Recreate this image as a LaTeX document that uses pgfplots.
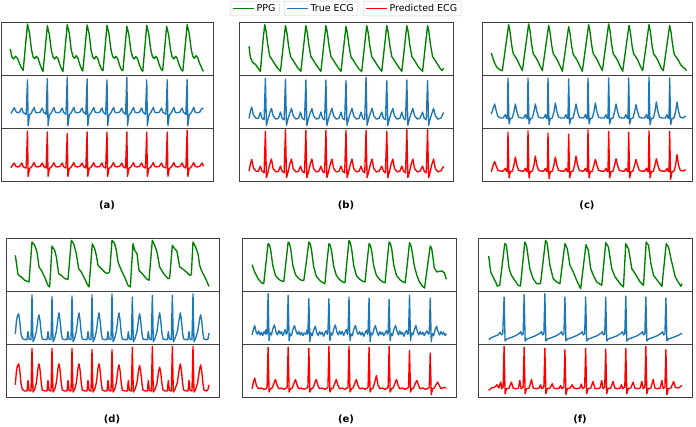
\documentclass[border=0pt]{standalone}
\usepackage{pgfplots}
\pgfplotsset{compat=1.18}
\usepackage{fontspec}
\setmainfont{DejaVu Sans}
\definecolor{ppgc}{HTML}{008000}
\definecolor{tecgc}{HTML}{1F77B4}
\definecolor{pecgc}{HTML}{FF0000}
\tikzset{
  sppg/.style={color=ppgc, line width=1.35pt, mark=none, line join=round},
  stru/.style={color=tecgc, line width=1.35pt, mark=none, line join=round},
  spre/.style={color=pecgc, line width=1.35pt, mark=none, line join=round},
}
\pgfplotsset{
  sub/.style={scale only axis, anchor=north west, height=53pt,
    xtick=\empty, ytick=\empty, y dir=reverse,
    axis line style={black!75, line width=0.7pt}},
  leg/.style={scale only axis, at={(0pt,0pt)}, anchor=south west, width=696pt, height=426pt,
    hide axis, xmin=0, xmax=1, ymin=0, ymax=1,
    legend image code/.code={\draw[##1] (0pt,0pt) -- (21pt,0pt);},
    legend style={anchor=north west, draw=black!20, rounded corners=2pt, fill=white,
      font=\fontsize{9.5}{11}\selectfont, inner xsep=2pt, inner ysep=1pt}},
}
\begin{document}
\begin{tikzpicture}[x=1pt,y=1pt]
\useasboundingbox (0,0) rectangle (696,426);

% ---------------- (a)
\begin{axis}[sub, at={(1pt,404pt)}, width=212pt, xmin=0, xmax=640, ymin=67, ymax=226]
\addplot[sppg] coordinates {(28,148)(33,172)(38,178)(44,170)(50,176)(56,192)(62,205)(67,212)
(80,73)(86,100)(92,150)(97,172)(102,177)(107,170)(112,176)(118,195)(124,210)(127,215)
(140,78)(146,105)(152,152)(157,172)(162,178)(167,171)(172,177)(178,196)(184,210)(187,216)
(200,75)(206,100)(212,150)(217,170)(222,176)(227,168)(232,175)(238,195)(244,210)(247,214)
(260,76)(266,102)(272,152)(277,172)(282,178)(287,170)(292,176)(298,196)(304,210)(308,213)
(320,77)(326,103)(332,150)(337,170)(342,176)(347,170)(352,177)(358,197)(364,211)(368,213)
(380,80)(386,105)(392,152)(397,172)(402,178)(407,171)(412,177)(418,196)(424,210)(428,215)
(440,77)(446,102)(452,150)(457,170)(462,177)(467,170)(472,176)(478,196)(484,210)(488,213)
(500,80)(506,105)(512,152)(517,172)(522,178)(527,170)(532,176)(538,196)(544,210)(549,214)
(562,75)(568,100)(574,148)(579,170)(584,176)(589,168)(594,174)(600,192)(606,205)(611,215)};
\end{axis}
\begin{axis}[sub, at={(1pt,351pt)}, width=212pt, xmin=0, xmax=640, ymin=226, ymax=383]
\addplot[stru] coordinates {(30,340)(36,330)(40,323)(45,334)(50,338)(56,336)(60,328)(63,324)(67,337)(72,340)(76,343)(80,240)
(82,376)(86,345)(92,338)(97,328)(100,322)(104,336)(110,338)(118,336)(122,328)(125,324)(129,337)(134,340)(136,343)(140,237)
(142,376)(146,345)(152,338)(157,328)(160,322)(164,336)(170,338)(178,336)(182,328)(185,324)(189,337)(194,340)(196,343)(200,232)
(202,376)(206,345)(212,338)(217,328)(220,322)(224,336)(230,338)(238,336)(242,328)(245,324)(249,337)(254,340)(256,343)(260,238)
(262,376)(266,345)(272,338)(277,328)(280,322)(284,336)(290,338)(298,336)(302,328)(305,324)(309,337)(314,340)(316,343)(320,240)
(322,376)(326,345)(332,338)(337,328)(340,322)(344,336)(350,338)(358,336)(362,328)(365,324)(369,337)(374,340)(376,343)(380,233)
(382,376)(386,345)(392,338)(397,328)(400,322)(404,336)(410,338)(418,336)(422,328)(425,324)(429,337)(434,340)(436,343)(440,240)
(442,376)(446,345)(452,338)(457,328)(460,322)(464,336)(470,338)(478,336)(482,328)(485,324)(489,337)(496,340)(498,343)(502,240)
(504,376)(508,345)(514,338)(519,328)(522,322)(526,336)(532,338)(540,336)(544,328)(547,324)(551,337)(556,340)(558,343)(562,240)
(564,376)(568,345)(574,338)(579,328)(582,322)(586,336)(592,338)(600,336)(604,328)(608,324)(611,326)};
\end{axis}
\begin{axis}[sub, at={(1pt,298pt)}, width=212pt, xmin=0, xmax=640, ymin=383, ymax=542]
\addplot[spre] coordinates {(30,502)(36,493)(40,488)(45,498)(50,500)(56,498)(60,492)(63,488)(67,499)(72,502)(76,503)(80,392)
(82,528)(86,505)(92,500)(97,492)(100,487)(104,498)(110,500)(118,498)(122,492)(125,488)(129,499)(134,502)(136,503)(140,395)
(142,528)(146,505)(152,500)(157,492)(160,487)(164,498)(170,500)(178,498)(182,492)(185,488)(189,499)(194,502)(196,503)(200,400)
(202,528)(206,505)(212,500)(217,492)(220,487)(224,498)(230,500)(238,498)(242,492)(245,488)(249,499)(254,502)(256,503)(260,395)
(262,528)(266,505)(272,500)(277,492)(280,487)(284,498)(290,500)(298,498)(302,492)(305,488)(309,499)(314,502)(316,503)(320,395)
(322,528)(326,505)(332,500)(337,492)(340,487)(344,498)(350,500)(358,498)(362,492)(365,488)(369,499)(374,502)(376,503)(380,395)
(382,528)(386,505)(392,500)(397,492)(400,487)(404,498)(410,500)(418,498)(422,492)(425,488)(429,499)(434,502)(436,503)(440,395)
(442,528)(446,505)(452,500)(457,492)(460,487)(464,498)(470,500)(478,498)(482,492)(485,488)(489,499)(496,502)(498,503)(502,395)
(504,528)(508,505)(514,500)(519,492)(522,487)(526,498)(532,500)(540,498)(544,492)(547,488)(551,499)(556,502)(558,503)(562,390)
(564,528)(568,505)(574,500)(579,492)(582,487)(586,498)(592,500)(600,498)(604,492)(608,488)(611,498)};
\end{axis}

% ---------------- (b)
\begin{axis}[sub, at={(239pt,404pt)}, width=214pt, xmin=28, xmax=668, ymin=22, ymax=181]
\addplot[sppg] coordinates {(58,95)(62,128)(68,142)(78,150)(86,162)(92,170)
(100,75)(105,30)(109,50)(114,90)(120,125)(127,135)(135,148)(143,160)(152,170)
(162,78)(167,33)(171,52)(176,92)(182,126)(189,136)(197,149)(205,161)(213,170)
(223,78)(228,33)(232,52)(237,92)(243,126)(250,136)(258,149)(266,161)(273,170)
(283,78)(288,33)(292,52)(297,92)(303,126)(310,136)(318,149)(326,161)(333,170)
(343,80)(348,35)(352,55)(357,94)(363,127)(370,137)(378,150)(386,162)(395,171)
(405,78)(410,33)(414,52)(419,92)(425,126)(432,136)(440,149)(448,161)(455,170)
(465,78)(470,33)(474,52)(479,92)(485,126)(492,136)(500,149)(508,161)(515,170)
(525,78)(530,33)(534,52)(539,92)(545,126)(552,136)(560,149)(568,161)(577,170)
(587,78)(592,33)(596,52)(601,92)(607,126)(614,136)(622,149)(630,162)(635,168)(640,160)};
\end{axis}
\begin{axis}[sub, at={(239pt,351pt)}, width=214pt, xmin=28, xmax=668, ymin=105, ymax=265]
\addplot[stru] coordinates {(58,236)(62,215)(66,202)(71,225)(79,236)(86,236)(92,218)(97,236)(103,240)(107,115)
(110,257)(114,240)(120,220)(125,206)(130,228)(138,238)(146,236)(152,217)(157,236)(163,240)(167,118)
(170,257)(174,240)(180,220)(185,206)(190,228)(198,238)(206,236)(212,217)(217,236)(224,240)(228,120)
(231,257)(235,240)(241,220)(246,206)(251,228)(259,238)(267,236)(273,217)(278,236)(284,240)(288,120)
(291,257)(295,240)(301,220)(306,206)(311,228)(319,238)(327,236)(333,217)(338,236)(344,240)(348,122)
(351,257)(355,240)(361,220)(366,206)(371,228)(379,238)(387,236)(393,217)(398,236)(404,240)(408,112)
(411,257)(415,240)(421,220)(426,206)(431,228)(439,238)(447,236)(455,217)(460,236)(466,240)(470,122)
(473,257)(477,240)(483,220)(488,206)(493,228)(501,238)(509,236)(515,217)(520,236)(526,240)(530,120)
(533,257)(537,240)(543,220)(548,206)(553,228)(561,238)(569,236)(577,217)(582,236)(588,240)(592,122)
(595,257)(599,240)(605,220)(610,206)(615,228)(623,238)(632,235)(640,218)};
\end{axis}
\begin{axis}[sub, at={(239pt,298pt)}, width=214pt, xmin=28, xmax=668, ymin=265, ymax=422]
\addplot[spre] coordinates {(58,393)(62,372)(66,358)(71,383)(79,393)(86,393)(92,378)(97,393)(103,398)(107,275)
(110,412)(114,398)(120,372)(125,357)(130,385)(138,395)(146,393)(152,378)(157,393)(163,398)(167,270)
(170,412)(174,398)(180,372)(185,357)(190,385)(198,395)(206,393)(212,378)(217,393)(224,398)(228,272)
(231,412)(235,398)(241,372)(246,357)(251,385)(259,395)(267,393)(273,378)(278,393)(284,398)(288,272)
(291,412)(295,398)(301,372)(306,357)(311,385)(319,395)(327,393)(333,378)(338,393)(344,398)(348,272)
(351,412)(355,398)(361,372)(366,357)(371,385)(379,395)(387,393)(393,378)(398,393)(404,398)(408,272)
(411,412)(415,398)(421,372)(426,357)(431,385)(439,395)(447,393)(455,378)(460,393)(466,398)(470,275)
(473,412)(477,398)(483,372)(488,357)(493,385)(501,395)(509,393)(515,378)(520,393)(526,398)(530,270)
(533,412)(537,398)(543,372)(548,357)(553,385)(561,395)(569,393)(577,378)(582,393)(588,398)(592,270)
(595,412)(599,398)(605,372)(610,357)(615,385)(623,395)(632,392)(640,378)};
\end{axis}

% ---------------- (c)
\begin{axis}[sub, at={(482pt,404pt)}, width=210pt, xmin=67, xmax=697, ymin=22, ymax=181]
\addplot[sppg] coordinates {(95,115)(100,132)(106,148)(112,158)(120,165)(128,168)
(147,30)(151,50)(156,92)(161,118)(167,126)(174,138)(180,152)(185,162)(188,168)
(207,28)(211,48)(216,90)(221,118)(227,126)(234,138)(240,152)(245,162)(248,168)
(267,32)(271,52)(276,92)(281,118)(287,126)(294,138)(300,152)(305,162)(308,170)
(327,36)(331,55)(336,95)(341,120)(347,128)(354,140)(360,153)(365,163)(368,170)
(387,30)(391,50)(396,92)(401,118)(407,126)(414,138)(420,152)(425,162)(428,168)
(447,28)(451,48)(456,90)(461,118)(467,126)(474,138)(480,152)(485,162)(489,170)
(508,32)(512,52)(517,92)(522,118)(528,126)(535,138)(541,152)(546,162)(549,168)
(568,30)(572,50)(577,92)(582,118)(588,126)(595,138)(601,152)(606,162)(611,168)
(630,32)(634,52)(639,92)(644,120)(650,128)(657,138)(663,150)(670,158)(676,162)(680,168)};
\end{axis}
\begin{axis}[sub, at={(482pt,351pt)}, width=210pt, xmin=67, xmax=697, ymin=181, ymax=340]
\addplot[stru] coordinates {(95,298)(100,282)(105,268)(110,290)(115,306)(123,310)(130,310)
(137,300)(140,310)(143,312)(145,190)(148,328)(152,312)(158,310)(163,290)(167,268)(172,292)(177,308)(185,310)(192,310)
(197,300)(200,310)(203,312)(205,190)(208,328)(212,312)(218,310)(223,290)(227,268)(232,292)(237,308)(245,310)(252,310)
(257,300)(260,310)(263,312)(265,190)(268,330)(272,312)(278,310)(283,290)(287,265)(292,292)(297,308)(305,310)(314,310)
(319,300)(322,310)(325,312)(327,193)(330,328)(334,312)(340,310)(345,290)(349,268)(354,292)(359,308)(367,310)(372,310)
(377,300)(380,310)(383,312)(385,190)(388,328)(392,312)(398,310)(403,290)(407,265)(412,292)(417,308)(425,310)(434,310)
(439,300)(442,310)(445,312)(447,190)(450,328)(454,312)(460,310)(465,290)(469,268)(474,292)(479,308)(487,310)(494,310)
(499,300)(502,310)(505,312)(507,190)(510,328)(514,312)(520,310)(525,290)(529,270)(534,292)(539,308)(547,310)(555,310)
(560,300)(563,310)(566,312)(568,187)(571,330)(575,312)(581,310)(586,290)(590,262)(595,292)(600,308)(608,310)(617,310)
(622,300)(625,310)(628,312)(630,190)(633,330)(637,312)(643,310)(648,290)(652,262)(657,292)(662,308)(670,310)(678,304)};
\end{axis}
\begin{axis}[sub, at={(482pt,298pt)}, width=210pt, xmin=67, xmax=697, ymin=340, ymax=495]
\addplot[spre] coordinates {(95,468)(100,450)(105,438)(110,452)(115,464)(123,466)(130,466)
(137,458)(140,466)(143,468)(145,352)(148,486)(152,468)(158,466)(163,448)(167,425)(172,450)(177,464)(185,466)(192,466)
(197,458)(200,466)(203,468)(205,348)(208,486)(212,468)(218,466)(223,448)(227,422)(232,450)(237,464)(245,466)(252,466)
(257,458)(260,466)(263,468)(265,355)(268,488)(272,468)(278,466)(283,448)(287,425)(292,450)(297,464)(305,466)(314,466)
(319,458)(322,466)(325,468)(327,358)(330,486)(334,468)(340,466)(345,448)(349,422)(354,450)(359,464)(367,466)(372,466)
(377,458)(380,466)(383,468)(385,345)(388,486)(392,468)(398,466)(403,448)(407,432)(412,450)(417,464)(425,466)(434,466)
(439,458)(442,466)(445,468)(447,350)(450,486)(454,468)(460,466)(465,448)(469,430)(474,450)(479,464)(487,466)(494,466)
(499,458)(502,466)(505,468)(507,352)(510,486)(514,468)(520,466)(525,448)(529,432)(534,450)(539,464)(547,466)(555,466)
(560,458)(563,466)(566,468)(568,348)(571,486)(575,468)(581,466)(586,448)(590,430)(595,450)(600,464)(608,466)(617,466)
(622,458)(625,466)(628,468)(630,350)(633,490)(637,468)(643,466)(648,448)(652,418)(657,450)(662,464)(670,466)(678,462)};
\end{axis}

% ---------------- (d)
\begin{axis}[sub, at={(6pt,188pt)}, width=213pt, xmin=19, xmax=658, ymin=38, ymax=197]
\addplot[sppg] coordinates {(47,90)(52,125)(55,148)(65,155)(75,165)(88,170)(97,50)(105,60)(112,80)(118,125)(125,135)(135,155)(145,180)(150,185)
(157,62)(165,75)(170,95)(177,145)(185,150)(195,160)(205,162)(215,45)(222,55)(230,85)(237,130)(245,140)(255,160)(262,175)(268,185)
(278,55)(285,70)(290,90)(295,120)(305,130)(315,140)(322,145)(330,140)(337,45)(345,55)(350,75)(355,110)(365,135)(375,155)(385,180)(392,185)
(400,55)(405,75)(412,85)(418,135)(428,145)(440,160)(448,165)(458,45)(465,60)(472,80)(480,125)(492,145)(505,160)(510,158)
(518,60)(525,70)(532,78)(540,125)(548,130)(560,140)(570,150)(575,148)(580,50)(588,65)(595,85)(600,120)(605,135)(618,160)(628,183)};
\end{axis}
\begin{axis}[sub, at={(6pt,135pt)}, width=213pt, xmin=19, xmax=658, ymin=197, ymax=355]
\addplot[stru] coordinates {(47,325)(50,290)(53,272)(57,265)(60,285)(64,325)(68,338)(75,342)(82,342)(85,318)(88,340)(94,342)
(97,208)(100,348)(105,338)(110,318)(115,280)(118,268)(121,285)(125,325)(128,340)(135,342)(142,342)(145,318)(148,340)(154,342)
(157,213)(160,348)(165,338)(170,318)(175,278)(178,262)(181,282)(185,325)(188,340)(195,342)(202,342)(205,318)(208,340)(214,342)
(217,212)(220,348)(225,338)(230,318)(235,278)(238,262)(241,282)(245,325)(248,340)(255,342)(262,342)(265,318)(268,340)(274,342)
(277,208)(280,348)(285,338)(290,318)(295,278)(298,262)(301,282)(305,325)(308,340)(315,342)(322,342)(325,318)(328,340)(334,342)
(337,205)(340,348)(345,338)(350,318)(355,278)(358,262)(361,282)(365,325)(368,340)(375,342)(383,342)(386,318)(389,340)(395,342)
(398,215)(401,348)(406,338)(412,318)(417,280)(420,265)(423,285)(427,325)(430,340)(437,342)(443,342)(446,318)(449,340)(455,342)
(458,210)(461,348)(466,338)(472,318)(477,278)(480,262)(483,282)(487,325)(490,340)(497,342)(503,342)(506,318)(509,340)(515,342)
(518,210)(521,348)(526,338)(533,318)(539,278)(542,262)(545,282)(549,325)(552,340)(559,342)(565,342)(568,318)(571,340)(577,342)
(580,205)(583,348)(588,338)(594,318)(600,280)(603,268)(606,285)(610,325)(613,340)(620,342)(625,340)(628,322)};
\end{axis}
\begin{axis}[sub, at={(6pt,82pt)}, width=213pt, xmin=19, xmax=658, ymin=355, ymax=515]
\addplot[spre] coordinates {(47,478)(50,440)(53,422)(57,415)(60,432)(64,475)(68,492)(75,497)(82,497)(85,465)(88,495)(94,497)
(97,368)(100,500)(105,492)(110,472)(115,428)(118,415)(121,432)(125,475)(128,494)(135,497)(142,497)(145,465)(148,495)(154,497)
(157,368)(160,500)(165,492)(170,472)(175,428)(178,415)(181,432)(185,475)(188,494)(195,497)(202,497)(205,465)(208,495)(214,497)
(217,368)(220,500)(225,492)(230,472)(235,428)(238,415)(241,432)(245,475)(248,494)(255,497)(262,497)(265,465)(268,495)(274,497)
(277,372)(280,500)(285,492)(290,472)(295,428)(298,415)(301,432)(305,475)(308,494)(315,497)(322,497)(325,465)(328,495)(334,497)
(337,372)(340,500)(345,492)(350,472)(355,430)(358,418)(361,434)(365,475)(368,494)(375,497)(383,497)(386,465)(389,495)(395,497)
(398,365)(401,500)(406,492)(412,472)(417,432)(420,420)(423,436)(427,475)(430,494)(437,497)(443,497)(446,465)(449,495)(455,497)
(458,362)(461,500)(466,492)(472,474)(477,436)(480,425)(483,440)(487,476)(490,494)(497,497)(503,497)(506,465)(509,495)(515,497)
(518,362)(521,500)(526,492)(533,472)(539,428)(542,415)(545,432)(549,475)(552,494)(559,497)(565,497)(568,465)(571,495)(577,497)
(580,362)(583,500)(588,492)(594,472)(600,430)(603,418)(606,434)(610,475)(613,494)(620,497)(625,492)(628,478)};
\end{axis}

% ---------------- (e)
\begin{axis}[sub, at={(242pt,188pt)}, width=214pt, xmin=37, xmax=677, ymin=38, ymax=197]
\addplot[sppg] coordinates {(67,118)(75,140)(85,160)(95,172)(102,175)(109,110)(115,55)
(119,58)(123,75)(129,120)(137,150)(147,162)(155,167)(162,168)(169,105)(175,50)
(179,55)(183,72)(189,120)(197,148)(207,160)(215,165)(222,165)(230,105)(237,50)
(241,55)(245,75)(251,122)(259,152)(269,165)(278,172)(285,175)(291,110)(297,55)
(301,60)(305,78)(311,122)(319,150)(329,163)(338,170)(345,172)(351,105)(357,45)
(361,52)(365,72)(371,120)(379,150)(389,162)(398,168)(405,170)(411,110)(417,55)
(421,60)(425,78)(431,122)(439,150)(449,163)(458,170)(465,172)(471,108)(477,50)
(481,55)(485,72)(491,120)(499,150)(509,163)(518,170)(525,172)(532,110)(538,52)
(542,60)(546,80)(552,120)(560,150)(568,170)(576,182)(583,188)(592,120)(600,62)
(604,68)(608,95)(612,128)(620,140)(628,138)(635,137)(642,142)(648,162)};
\end{axis}
\begin{axis}[sub, at={(242pt,135pt)}, width=214pt, xmin=37, xmax=677, ymin=197, ymax=355]
\addplot[stru] coordinates {(67,328)(71,312)(75,300)(79,318)(83,326)(87,316)(91,328)(95,320)(99,330)(103,318)(106,325)(109,312)(112,326)
(115,205)(118,345)(121,322)(125,328)(129,310)(134,298)(139,320)(143,328)(147,315)(151,325)(155,318)(159,330)(163,320)(166,312)(169,326)(172,322)
(175,210)(178,345)(181,325)(185,330)(189,312)(194,300)(199,318)(203,326)(207,318)(211,328)(215,320)(219,330)(223,322)(228,326)(231,314)(234,326)
(237,220)(240,348)(243,322)(247,330)(251,315)(256,302)(261,322)(265,330)(269,318)(273,326)(277,320)(281,332)(285,322)(289,315)(292,326)(294,322)
(297,220)(300,345)(303,322)(307,328)(311,312)(316,298)(321,320)(325,328)(329,316)(333,326)(337,318)(341,330)(345,320)(349,312)(352,326)(354,322)
(357,215)(360,345)(363,325)(367,330)(371,312)(376,300)(381,320)(385,326)(389,318)(393,328)(397,320)(401,332)(405,322)(409,314)(412,326)(414,322)
(417,218)(420,348)(423,322)(427,328)(431,312)(436,300)(441,320)(445,330)(449,318)(453,326)(457,320)(461,330)(465,322)(469,315)(472,326)(474,322)
(477,222)(480,345)(483,324)(487,330)(491,312)(496,300)(501,318)(505,328)(509,316)(513,326)(517,320)(521,332)(525,322)(529,314)(533,326)(535,322)
(538,210)(541,345)(544,322)(548,328)(552,314)(557,300)(562,320)(566,328)(570,318)(574,326)(578,320)(582,330)(586,322)(590,316)(595,326)(597,322)
(600,218)(603,348)(606,324)(610,330)(614,314)(619,302)(624,320)(628,328)(632,318)(636,326)(640,320)(644,330)(648,324)};
\end{axis}
\begin{axis}[sub, at={(242pt,82pt)}, width=214pt, xmin=37, xmax=677, ymin=355, ymax=515]
\addplot[spre] coordinates {(67,490)(71,470)(75,458)(80,480)(86,490)(95,488)(103,492)(109,490)(112,486)
(115,365)(118,500)(122,490)(127,488)(132,475)(137,462)(142,480)(147,490)(155,488)(163,492)(169,488)(172,486)
(175,365)(178,500)(182,490)(187,488)(192,475)(197,462)(202,480)(207,490)(215,488)(223,492)(231,488)(234,486)
(237,368)(240,500)(244,490)(249,488)(254,475)(259,462)(264,480)(269,490)(277,488)(285,492)(291,488)(294,486)
(297,362)(300,500)(304,490)(309,488)(314,475)(319,462)(324,480)(329,490)(337,488)(345,492)(351,488)(354,486)
(357,362)(360,500)(364,490)(369,488)(374,475)(379,462)(384,480)(389,490)(397,488)(405,492)(411,488)(414,486)
(417,365)(420,500)(424,490)(429,488)(434,470)(439,450)(444,480)(449,490)(457,488)(465,492)(471,488)(474,486)
(477,362)(480,500)(484,490)(489,488)(494,475)(499,462)(504,480)(509,490)(517,488)(525,492)(532,488)(535,486)
(538,375)(541,500)(545,490)(550,488)(555,475)(560,465)(565,480)(570,490)(578,488)(586,492)(594,488)(597,486)
(600,382)(603,508)(607,490)(612,488)(617,478)(622,470)(627,480)(632,490)(640,486)(648,488)};
\end{axis}

% ---------------- (f)
\begin{axis}[sub, at={(478pt,188pt)}, width=214pt, xmin=55, xmax=695, ymin=38, ymax=197]
\addplot[sppg] coordinates {(87,92)(93,140)(100,155)(108,170)(112,182)(120,180)(135,55)(140,60)(148,130)(155,150)(165,165)(175,180)(182,182)
(195,50)(200,60)(210,130)(220,160)(230,175)(242,175)(257,45)(262,55)(270,120)(280,160)(290,170)(300,175)
(315,55)(322,70)(330,120)(340,140)(350,165)(362,190)(378,58)(385,75)(392,130)(400,150)(410,170)(425,180)
(437,52)(445,65)(455,130)(465,155)(480,175)(490,185)(497,55)(505,70)(515,130)(525,145)(540,170)(550,180)
(558,50)(565,60)(572,115)(580,150)(595,170)(605,183)(618,55)(625,65)(632,100)(645,155)(655,172)(662,183)(665,175)};
\end{axis}
\begin{axis}[sub, at={(478pt,135pt)}, width=214pt, xmin=55, xmax=695, ymin=197, ymax=355]
\addplot[stru] coordinates {(87,342)(95,336)(105,332)(115,328)(121,320)(125,328)(129,325)
(133,215)(136,346)(141,340)(153,336)(168,330)(180,322)(183,318)(186,328)(190,325)
(193,208)(196,346)(201,340)(213,336)(228,330)(242,322)(245,318)(248,328)(252,325)
(255,205)(258,346)(263,340)(275,336)(290,330)(302,322)(305,318)(308,328)(312,325)
(315,215)(318,346)(323,340)(335,336)(350,330)(364,322)(367,318)(370,328)(374,325)
(377,215)(380,346)(385,340)(397,336)(412,330)(424,322)(427,318)(430,328)(434,325)
(437,215)(440,346)(445,340)(457,336)(472,330)(484,322)(487,318)(490,328)(494,325)
(497,212)(500,346)(505,340)(517,336)(532,330)(544,322)(547,318)(550,328)(554,325)
(557,215)(560,346)(565,340)(577,336)(592,330)(604,322)(607,318)(610,328)(614,325)
(617,218)(620,346)(625,340)(637,336)(652,330)(660,326)(665,323)};
\end{axis}
\begin{axis}[sub, at={(478pt,82pt)}, width=214pt, xmin=55, xmax=695, ymin=355, ymax=515]
\addplot[spre] coordinates {(87,495)(95,488)(105,485)(112,478)(117,488)(123,470)(126,490)(130,485)
(133,362)(136,505)(140,490)(148,488)(155,470)(160,488)(168,490)(176,488)(180,465)(184,490)(190,485)
(193,365)(196,505)(200,490)(208,488)(215,462)(220,488)(228,490)(238,488)(242,478)(246,490)(252,485)
(255,368)(258,505)(262,490)(270,488)(277,475)(282,488)(290,490)(298,488)(302,480)(306,490)(312,485)
(315,372)(318,508)(322,490)(330,488)(337,478)(342,488)(350,490)(360,488)(364,476)(368,490)(374,485)
(377,368)(380,505)(384,490)(392,488)(399,468)(404,488)(412,490)(420,488)(425,465)(429,490)(434,485)
(437,370)(440,505)(444,490)(452,488)(459,468)(464,488)(472,490)(480,488)(484,478)(488,490)(494,485)
(497,368)(500,505)(504,490)(512,488)(519,470)(524,488)(532,490)(540,488)(545,468)(549,490)(554,485)
(557,362)(560,505)(564,490)(572,488)(579,462)(584,488)(592,490)(600,488)(605,465)(609,490)(614,485)
(617,372)(620,508)(624,490)(632,488)(640,468)(645,486)(655,488)(665,480)};
\end{axis}

% ---------------- legend boxes
\begin{axis}[leg, legend style={at={(0.3305,0.9977)}}]
\addlegendimage{sppg}\addlegendentry{PPG}
\end{axis}
\begin{axis}[leg, legend style={at={(0.4080,0.9977)}}]
\addlegendimage{stru}\addlegendentry{True ECG}
\end{axis}
\begin{axis}[leg, legend style={at={(0.5216,0.9977)}}]
\addlegendimage{spre}\addlegendentry{Predicted ECG}
\end{axis}

% ---------------- panel labels
\begin{scope}[every node/.style={font=\bfseries\fontsize{10}{12}\selectfont}]
\node at (107,221) {(a)};
\node at (346,221) {(b)};
\node at (587,221) {(c)};
\node at (112,7) {(d)};
\node at (346,7) {(e)};
\node at (580,7) {(f)};
\end{scope}
\end{tikzpicture}
\end{document}
